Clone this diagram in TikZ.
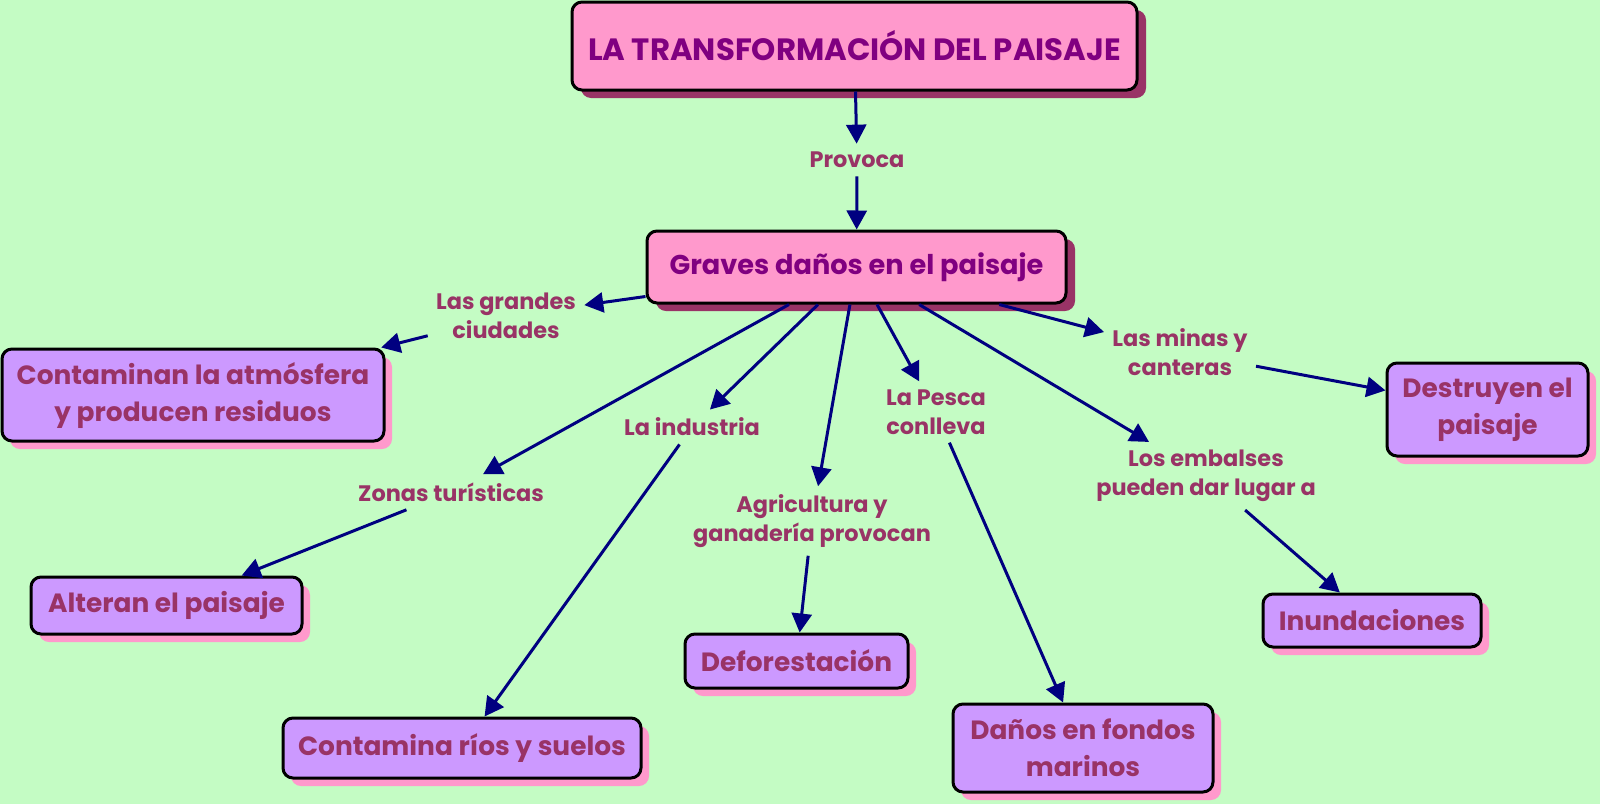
\documentclass[tikz,border=0pt]{standalone}
\usepackage{fontspec}
\setmainfont{Poppins}
\usetikzlibrary{arrows.meta,shadows}
\definecolor{bg}{HTML}{C4FCC4}
\definecolor{pinkbox}{HTML}{FF99CC}
\definecolor{lavbox}{HTML}{CC99FF}
\definecolor{shadowdark}{HTML}{993366}
\definecolor{titletext}{HTML}{800080}
\definecolor{wine}{HTML}{993366}
\definecolor{navy}{HTML}{000080}
\tikzset{
  topbox/.style={draw=black, line width=1.5pt, rounded corners=5pt, fill=pinkbox,
    text=titletext, font=\bfseries\fontsize{13.6}{16}\selectfont, align=center,
    inner sep=0pt, drop shadow={shadow xshift=4.5pt, shadow yshift=-4pt, fill=shadowdark, opacity=1}},
  lowbox/.style={draw=black, line width=1.5pt, rounded corners=5pt, fill=lavbox,
    text=wine, font=\bfseries\fontsize{13.2}{18.5}\selectfont, align=center,
    inner sep=0pt, drop shadow={shadow xshift=4pt, shadow yshift=-4pt, fill=pinkbox, opacity=1}},
  lbl/.style={text=wine, font=\bfseries\fontsize{11.2}{14.3}\selectfont, align=center, inner sep=4pt},
  arr/.style={draw=navy, line width=1.5pt, -{Triangle[length=9.5pt,width=10pt]}},
}
\begin{document}
\begin{tikzpicture}[x=0.5pt,y=-0.5pt]
\fill[bg] (0,0) rectangle (1600,804);
\useasboundingbox (0,0) rectangle (1600,804);
% boxes
\node[topbox, minimum width=282.5pt, minimum height=44pt, font=\bfseries\fontsize{15.4}{18}\selectfont] (t) at (854.5,46) {LA TRANSFORMACIÓN DEL PAISAJE};
\node[topbox, minimum width=209.5pt, minimum height=36pt] (g) at (856.5,267) {Graves daños en el paisaje};
\node[lowbox, minimum width=191pt, minimum height=46pt] (c1) at (193,395) {Contaminan la atmósfera\\y producen residuos};
\node[lowbox, minimum width=135.5pt, minimum height=28.5pt] (al) at (166.5,605.5) {Alteran el paisaje};
\node[lowbox, minimum width=179pt, minimum height=30pt] (ri) at (462,748) {Contamina ríos y suelos};
\node[lowbox, minimum width=111.5pt, minimum height=27pt] (de) at (796.5,661) {Deforestación};
\node[lowbox, minimum width=130pt, minimum height=44pt] (fo) at (1083,748) {Daños en fondos\\marinos};
\node[lowbox, minimum width=109pt, minimum height=26.5pt] (in) at (1372,620.5) {Inundaciones};
\node[lowbox, minimum width=100.5pt, minimum height=46.5pt] (dp) at (1487.5,409.5) {Destruyen el\\paisaje};
% labels
\node[lbl] (pr) at (857,160) {Provoca};
\node[lbl] (lg) at (506,316) {Las grandes\\ciudades};
\node[lbl] (zt) at (451,492) {Zonas turísticas};
\node[lbl] (li) at (692,427) {La industria};
\node[lbl] (ag) at (812,521) {Agricultura y\\ganadería provocan};
\node[lbl] (lp) at (936,412) {La Pesca\\conlleva};
\node[lbl] (le) at (1206,476) {Los embalses\\pueden dar lugar a};
\node[lbl] (lm) at (1180,352) {Las minas y\\canteras};
% connectors
\draw[arr] (t) -- (pr);
\draw[arr] (pr) -- (g);
\draw[arr] (g) -- (lg);
\draw[arr] (lg) -- (c1);
\draw[arr] (g) -- (zt);
\draw[arr] (zt) -- (al);
\draw[arr] (g) -- (li);
\draw[arr] (li) -- (ri);
\draw[arr] (g) -- (ag);
\draw[arr] (ag) -- (de);
\draw[arr] (g) -- (lp);
\draw[arr] (lp) -- (fo);
\draw[arr] (g) -- (le);
\draw[arr] (le) -- (in);
\draw[arr] (g) -- (lm);
\draw[arr] (lm) -- (dp);
\end{tikzpicture}
\end{document}
